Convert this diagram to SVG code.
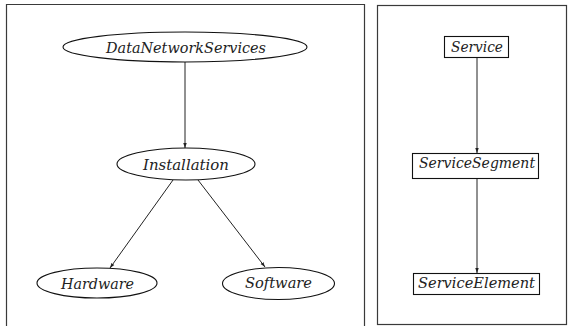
<svg xmlns="http://www.w3.org/2000/svg" width="568" height="326" viewBox="0 0 568 326">
  <defs>
    <style>
      .frame { fill: none; stroke: #3a3a3a; stroke-width: 1.2; }
      .shape { fill: #ffffff; stroke: #111; stroke-width: 1.1; }
      .edge { fill: none; stroke: #222; stroke-width: 1; }
      .lbl { font-family: "DejaVu Serif", "Liberation Serif", "Times New Roman", serif; font-style: italic; font-size: 14px; fill: #222; text-anchor: middle; }
    </style>
    <marker id="arrow" viewBox="0 0 10 10" refX="10" refY="5" markerWidth="5" markerHeight="5" orient="auto" markerUnits="userSpaceOnUse">
      <path d="M0,1.5 L10,5 L0,8.5 Z" fill="#222"/>
    </marker>
  </defs>

  <rect width="568" height="326" fill="#ffffff"/>

  <!-- panel frames -->
  <g id="frames">
    <path class="frame" d="M6.5,330 V4.5 H364.5 V330"/>
    <rect class="frame" x="377.5" y="5.5" width="189" height="319"/>
  </g>

  <!-- connectors -->
  <g id="connectors">
    <line class="edge" x1="185" y1="62" x2="185" y2="148" marker-end="url(#arrow)"/>
    <line class="edge" x1="173" y1="180" x2="110" y2="268" marker-end="url(#arrow)"/>
    <line class="edge" x1="198" y1="180" x2="265" y2="267" marker-end="url(#arrow)"/>
    <line class="edge" x1="477" y1="58" x2="477" y2="153" marker-end="url(#arrow)"/>
    <line class="edge" x1="477" y1="179" x2="477" y2="273" marker-end="url(#arrow)"/>
  </g>

  <!-- left tree -->
  <g id="node-datanetworkservices">
    <ellipse class="shape" cx="185" cy="47" rx="122" ry="15"/>
    <text class="lbl" x="186" y="53" textLength="160" lengthAdjust="spacingAndGlyphs">DataNetworkServices</text>
  </g>
  <g id="node-installation">
    <ellipse class="shape" cx="186" cy="164" rx="69" ry="16"/>
    <text class="lbl" x="186" y="170" textLength="86" lengthAdjust="spacingAndGlyphs">Installation</text>
  </g>
  <g id="node-hardware">
    <ellipse class="shape" cx="97" cy="283" rx="60" ry="15"/>
    <text class="lbl" x="97.5" y="289" textLength="73" lengthAdjust="spacingAndGlyphs">Hardware</text>
  </g>
  <g id="node-software">
    <ellipse class="shape" cx="278.5" cy="283.5" rx="56" ry="16"/>
    <text class="lbl" x="278.5" y="288" textLength="67" lengthAdjust="spacingAndGlyphs">Software</text>
  </g>

  <!-- right chain -->
  <g id="node-service">
    <rect class="shape" x="444.5" y="36.5" width="64" height="21"/>
    <text class="lbl" x="477" y="52" textLength="52" lengthAdjust="spacingAndGlyphs">Service</text>
  </g>
  <g id="node-servicesegment">
    <rect class="shape" x="412.5" y="153.5" width="126" height="25"/>
    <text class="lbl" x="477" y="168" textLength="116" lengthAdjust="spacingAndGlyphs">ServiceSegment</text>
  </g>
  <g id="node-serviceelement">
    <rect class="shape" x="413.5" y="273.5" width="126" height="21"/>
    <text class="lbl" x="476.5" y="288" textLength="117" lengthAdjust="spacingAndGlyphs">ServiceElement</text>
  </g>
</svg>
